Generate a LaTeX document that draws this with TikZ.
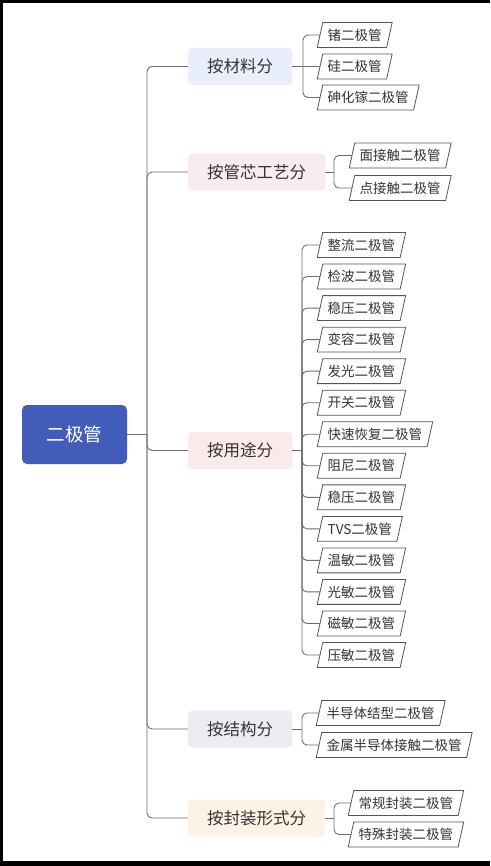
\documentclass[tikz,border=0pt]{standalone}
\usepackage{fontspec}
\newfontfamily\cjk{Noto Sans CJK SC}
\definecolor{rootblue}{RGB}{65,93,185}
\definecolor{linegray}{RGB}{110,110,110}
\definecolor{edgegray}{RGB}{85,85,85}
\definecolor{textgray}{RGB}{51,51,51}
\definecolor{catA}{RGB}{233,238,251}
\definecolor{catB}{RGB}{248,236,238}
\definecolor{catC}{RGB}{251,234,234}
\definecolor{catD}{RGB}{235,237,242}
\definecolor{catE}{RGB}{252,242,230}
\newcommand\leafnode[3]{%
  \node[leaftext] (#1) at (#2) {#3};
  \draw[leafedge] ([xshift=-2.75pt]#1.south west) -- ([xshift=2.75pt]#1.north west)
    -- ([xshift=2.75pt]#1.north east) -- ([xshift=-2.75pt]#1.south east) -- cycle;}
\begin{document}
\begin{tikzpicture}[x=1pt,y=-1pt,
  conn/.style={draw=linegray, line width=0.9pt, rounded corners=5pt},
  rootbox/.style={fill=rootblue, rounded corners=5pt, minimum width=105pt, minimum height=59pt, inner sep=0pt, text=white, font=\cjk\fontsize{18.5}{20}\selectfont},
  catbox/.style={rounded corners=4pt, minimum height=37pt, inner xsep=19pt, inner ysep=0pt, text=textgray, font=\cjk\fontsize{16.5}{18}\selectfont, anchor=west},
  leaftext/.style={minimum height=24.5pt, inner xsep=7.5pt, inner ysep=0pt, text=textgray, font=\cjk\fontsize{13.5}{15}\selectfont, anchor=west},
  leafedge/.style={draw=edgegray, line width=0.8pt, line join=miter},
  bar/.style={fill=black, draw=none}
]
\useasboundingbox (0,0) rectangle (490,866);
\fill[white] (0,0) rectangle (490,866);
\fill[bar] (0,0) rectangle (490,3.5);
\fill[bar] (0,0) rectangle (3,866);
\fill[bar] (0,861) rectangle (490,866);

% root
\node[rootbox] (root) at (74.5,434.5) {二极管};
\coordinate (tj) at (147,434.5);
\draw[conn] (root.east) -- (tj);

% categories
\node[catbox, fill=catA] (c1) at (188,66.5) {按材料分};
\node[catbox, fill=catB] (c2) at (188,172) {按管芯工艺分};
\node[catbox, fill=catC] (c3) at (188,450.5) {按用途分};
\node[catbox, fill=catD] (c4) at (188,729) {按结构分};
\node[catbox, fill=catE] (c5) at (188,818) {按封装形式分};
\foreach \c in {c1,c2,c3,c4,c5} {\draw[conn] (tj) |- (\c.west);}

% group 1
\leafnode{m1}{320,35}{锗二极管}
\leafnode{m2}{320,66.5}{硅二极管}
\leafnode{m3}{320,97.5}{砷化镓二极管}
\coordinate (s1) at (303,66.5);
\draw[conn] (c1.east) -- (m2.west);
\draw[conn] (s1) |- (m1.west);
\draw[conn] (s1) |- (m3.west);

% group 2
\leafnode{p1}{352,155.5}{面接触二极管}
\leafnode{p2}{352,188}{点接触二极管}
\coordinate (s2) at (334,172);
\draw[conn] (c2.east) -- (s2);
\draw[conn] (s2) |- (p1.west);
\draw[conn] (s2) |- (p2.west);

% group 3
\coordinate (s3) at (302,450.5);
\draw[conn] (c3.east) -- (s3);
\foreach \lbl [count=\i from 0] in {整流,检波,稳压,变容,发光,开关,快速恢复,阻尼,稳压,TVS,温敏,光敏,磁敏,压敏} {
  \leafnode{u\i}{320,{245+31.54*\i}}{\lbl 二极管}
  \draw[conn] (s3) |- (u\i.west);
}

% group 4
\leafnode{q1}{319,713}{半导体结型二极管}
\leafnode{q2}{319,745}{金属半导体接触二极管}
\coordinate (s4) at (302,729);
\draw[conn] (c4.east) -- (s4);
\draw[conn] (s4) |- (q1.west);
\draw[conn] (s4) |- (q2.west);

% group 5
\leafnode{r1}{351,803}{常规封装二极管}
\leafnode{r2}{351,834.5}{特殊封装二极管}
\coordinate (s5) at (334,818);
\draw[conn] (c5.east) -- (s5);
\draw[conn] (s5) |- (r1.west);
\draw[conn] (s5) |- (r2.west);
\end{tikzpicture}
\end{document}
